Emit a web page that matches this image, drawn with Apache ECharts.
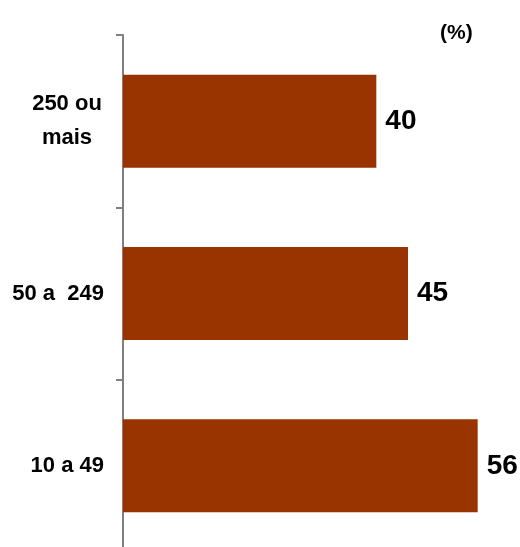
<!DOCTYPE html>
<html>
<head>
<meta charset="utf-8">
<script src="https://cdn.jsdelivr.net/npm/echarts@6/dist/echarts.min.js"></script>
<style>html,body{margin:0;padding:0;background:#fff}#c{width:520px;height:547px}</style>
</head>
<body>
<div id="c"></div>
<script>
const categories = ["10 a 49", "50 a  249", "250 ou\nmais"];
const values = [56, 45, 40];
const unitLabel = "(%)";

const chart = echarts.init(document.getElementById('c'), null, {renderer: 'canvas'});
chart.setOption({
  animation: false,
  backgroundColor: '#ffffff',
  title: {
    text: unitLabel,
    left: 435, top: 18,
    textStyle: {fontFamily: 'Liberation Sans', fontWeight: 'bold', fontSize: 21, color: '#000'}
  },
  grid: {left: 123, top: 35, width: 380, height: 517, containLabel: false, outerBoundsMode: 'none'},
  xAxis: {
    type: 'value', min: 0, max: 60, show: false
  },
  yAxis: {
    type: 'category',
    data: categories,
    axisLine: {show: true, lineStyle: {color: '#808080', width: 2}},
    axisTick: {show: true, length: 7, lineStyle: {color: '#808080', width: 2}},
    axisLabel: {
      margin: 19,
      fontFamily: 'Liberation Sans', fontWeight: 'bold', fontSize: 22, color: '#000',
      lineHeight: 34, align: 'right',
      formatter: function (v) {
        if (v.indexOf('\n') < 0) return v;
        return v.split('\n').map(function (s) { return '{c|' + s + '}'; }).join('\n');
      },
      rich: {
        c: {width: 74, align: 'center', fontFamily: 'Liberation Sans', fontWeight: 'bold', fontSize: 22, color: '#000', lineHeight: 34}
      }
    },
    splitLine: {show: false}
  },
  series: [{
    type: 'bar',
    data: values,
    barWidth: 93,
    itemStyle: {color: '#993300'},
    label: {
      show: true, position: 'right', distance: 9,
      fontFamily: 'Liberation Sans', fontWeight: 'bold', fontSize: 28, color: '#000'
    }
  }]
});
</script>
</body>
</html>
